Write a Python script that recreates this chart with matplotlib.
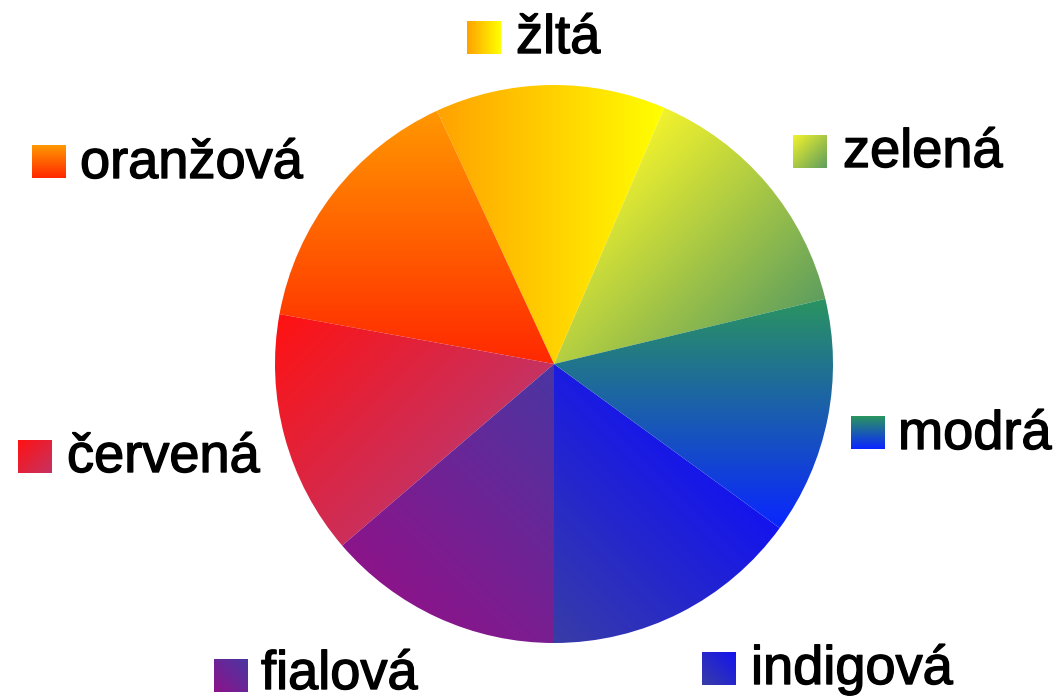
import numpy as np
import matplotlib.pyplot as plt
import matplotlib.patheffects as pe
from matplotlib.colors import to_rgb

# slices, counter-clockwise starting at the green one
labels = ['zelená', 'žltá', 'oranžová', 'červená', 'fialová', 'indigová', 'modrá']
values = [53.2, 48.1, 54.9, 50.9, 49.4, 54.0, 49.5]

# gradient per slice: start colour, end colour, direction (deg)
col_from = ['#f2f22c', '#ffa200', '#ff9800', '#ff1212', '#8c148a', '#383ca6', '#2a9460']
col_to = ['#5e9e5e', '#ffff00', '#ff2800', '#c63262', '#4a36a2', '#1414ee', '#0a26ff']
grad_dir = [-45, 0, -90, -45, 45, 45, -90]

# legend box (left, top in px) and label (left, baseline in px)
box_pos = [(793, 135), (467, 21), (32, 145), (18, 440), (214, 659), (702, 652), (851, 416)]
txt_pos = [(843, 167), (516, 53), (80, 178), (67, 472), (261, 689), (751, 684), (898, 449)]

W, H = 1059, 700
cx, cy, r = 554, H - 364, 279


def gradient(c0, c1, ang, verts, extent, n=300):
    x0, x1, y0, y1 = extent
    X, Y = np.meshgrid(np.linspace(x0, x1, n), np.linspace(y0, y1, n))
    d = np.array([np.cos(np.radians(ang)), np.sin(np.radians(ang))])
    p = X * d[0] + Y * d[1]
    pv = verts @ d
    t = np.clip((p - pv.min()) / (pv.max() - pv.min()), 0, 1)[..., None]
    return (1 - t) * np.array(to_rgb(c0)) + t * np.array(to_rgb(c1))


fig = plt.figure(figsize=(W / 100, H / 100), dpi=100)
ax = fig.add_axes([0, 0, 1, 1])
wedges, _ = ax.pie(values, startangle=13.5, center=(cx, cy), radius=r,
                   counterclock=True, wedgeprops=dict(linewidth=0))

ext = (cx - r - 2, cx + r + 2, cy - r - 2, cy + r + 2)
for i, w in enumerate(wedges):
    w.set_facecolor('none')
    verts = w.get_path().vertices
    img = gradient(col_from[i], col_to[i], grad_dir[i], verts, ext)
    im = ax.imshow(img, extent=ext, origin='lower', interpolation='bilinear', zorder=1)
    im.set_clip_path(w)

    # legend box
    bx, by = box_pos[i]
    bext = (bx, bx + 34, H - by - 33, H - by)
    bverts = np.array([[bext[0], bext[2]], [bext[1], bext[3]],
                       [bext[0], bext[3]], [bext[1], bext[2]]])
    ax.imshow(gradient(col_from[i], col_to[i], grad_dir[i], bverts, bext, n=40),
              extent=bext, origin='lower', interpolation='bilinear', zorder=2)

    tx, ty = txt_pos[i]
    ax.text(tx, H - ty, labels[i], fontsize=39, family='Liberation Sans',
            va='baseline', ha='left', color='black', zorder=3,
            path_effects=[pe.withStroke(linewidth=1.0, foreground='black')])

ax.set_xlim(0, W)
ax.set_ylim(0, H)
ax.set_aspect('auto')
ax.set_axis_off()
fig.savefig('out.png', dpi=100)
